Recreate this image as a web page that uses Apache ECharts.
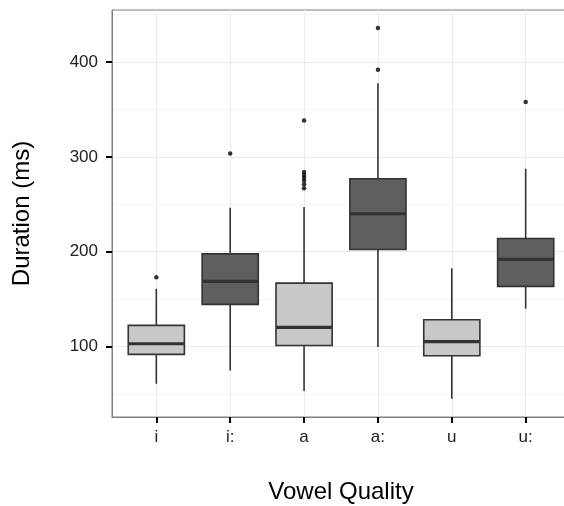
<!DOCTYPE html>
<html>
<head>
<meta charset="utf-8">
<script src="https://cdn.jsdelivr.net/npm/echarts@6/dist/echarts.min.js"></script>
<style>
  html, body { margin: 0; padding: 0; background: #fff; }
  #chart { width: 564px; height: 506px; }
</style>
</head>
<body>
<div id="chart"></div>
<script>
const categories = ["i", "i:", "a", "a:", "u", "u:"];
const vowelLength = ["short", "long", "short", "long", "short", "long"];
const lowerWhisker = [60.6, 74.7, 52.9, 99.3, 44.8, 139.8];
const q1 = [91.6, 144.3, 101, 202.3, 90.2, 163.3];
const median = [102.8, 168.6, 120, 240, 105, 191.8];
const q3 = [122.2, 197.6, 166.8, 276.9, 128.2, 213.9];
const upperWhisker = [160.8, 246.3, 247, 377.7, 182.6, 287.4];
// [category index, duration]
const outliers = [
  [0, 173], [1, 303.5],
  [2, 338.5], [2, 284], [2, 281], [2, 278], [2, 275], [2, 271], [2, 267],
  [3, 392], [3, 436], [5, 358],
];
const yTicks = [100, 200, 300, 400];
const yMinor = [50, 150, 250, 350, 450];

const fills = { short: "#c8c8c8", long: "#5f5f5f" };
const font = "Liberation Sans";

const chart = echarts.init(document.getElementById("chart"));

const boxData = categories.map((c, i) => [i, lowerWhisker[i], q1[i], median[i], q3[i], upperWhisker[i]]);

chart.setOption({
  animation: false,
  grid: {
    left: 112, top: 10, width: 458, height: 407,
    outerBoundsMode: "none",
    show: true, borderColor: "#7f7f7f", borderWidth: 1, backgroundColor: "transparent",
  },
  xAxis: {
    type: "value",
    min: -0.6,
    max: 5.6,
    name: "Vowel Quality",
    nameLocation: "middle",
    nameGap: 63,
    nameTextStyle: { fontFamily: font, fontSize: 24, color: "#000" },
    axisLine: { show: true, onZero: false, lineStyle: { color: "#7f7f7f", width: 1 } },
    axisTick: { show: true, inside: false, length: 6, customValues: [0, 1, 2, 3, 4, 5], lineStyle: { color: "#000", width: 2 } },
    axisLabel: {
      customValues: [0, 1, 2, 3, 4, 5],
      margin: 12,
      fontFamily: font, fontSize: 17, color: "#222",
      formatter: (v) => categories[Math.round(v)],
    },
    splitLine: { show: true, lineStyle: { color: "#ebebeb", width: 1 } },
  },
  yAxis: [
    {
      type: "value",
      min: 25.5,
      max: 455,
      name: "Duration (ms)",
      nameLocation: "middle",
      nameGap: 78,
      nameTextStyle: { fontFamily: font, fontSize: 24, color: "#000" },
      axisLine: { show: true, onZero: false, lineStyle: { color: "#7f7f7f", width: 1 } },
      axisTick: { show: true, inside: false, length: 6, customValues: yTicks, lineStyle: { color: "#000", width: 2 } },
      axisLabel: { customValues: yTicks, margin: 14, fontFamily: font, fontSize: 17, color: "#222" },
      splitLine: { show: true, lineStyle: { color: "#ebebeb", width: 1 } },
      z: 1,
    },
    {
      type: "value",
      position: "left",
      min: 25.5,
      max: 455,
      axisLine: { show: false, onZero: false },
      axisTick: { show: false, customValues: yMinor },
      axisLabel: { show: false, customValues: yMinor },
      splitLine: { show: true, lineStyle: { color: "#f5f5f5", width: 1 } },
      z: 0,
    },
  ],
  series: [
    {
      type: "custom",
      data: boxData,
      encode: { x: 0, y: [1, 2, 3, 4, 5] },
      renderItem: (params, api) => {
        const x = api.value(0);
        const lo = api.coord([x, api.value(1)]);
        const b1 = api.coord([x, api.value(2)]);
        const md = api.coord([x, api.value(3)]);
        const b3 = api.coord([x, api.value(4)]);
        const hi = api.coord([x, api.value(5)]);
        const half = api.size([0.76, 0])[0] / 2;
        const fill = fills[vowelLength[params.dataIndex]];
        const stroke = { stroke: "#333", lineWidth: 1.6 };
        return {
          type: "group",
          children: [
            { type: "line", shape: { x1: hi[0], y1: hi[1], x2: b3[0], y2: b3[1] }, style: stroke },
            { type: "line", shape: { x1: b1[0], y1: b1[1], x2: lo[0], y2: lo[1] }, style: stroke },
            { type: "rect", shape: { x: b3[0] - half, y: b3[1], width: half * 2, height: b1[1] - b3[1] }, style: { fill, ...stroke } },
            { type: "line", shape: { x1: md[0] - half, y1: md[1], x2: md[0] + half, y2: md[1] }, style: { stroke: "#333", lineWidth: 3.2 } },
          ],
        };
      },
      z: 2,
    },
    {
      type: "scatter",
      data: outliers,
      symbolSize: 4.5,
      itemStyle: { color: "#000" },
      z: 3,
    },
  ],
});
</script>
</body>
</html>
